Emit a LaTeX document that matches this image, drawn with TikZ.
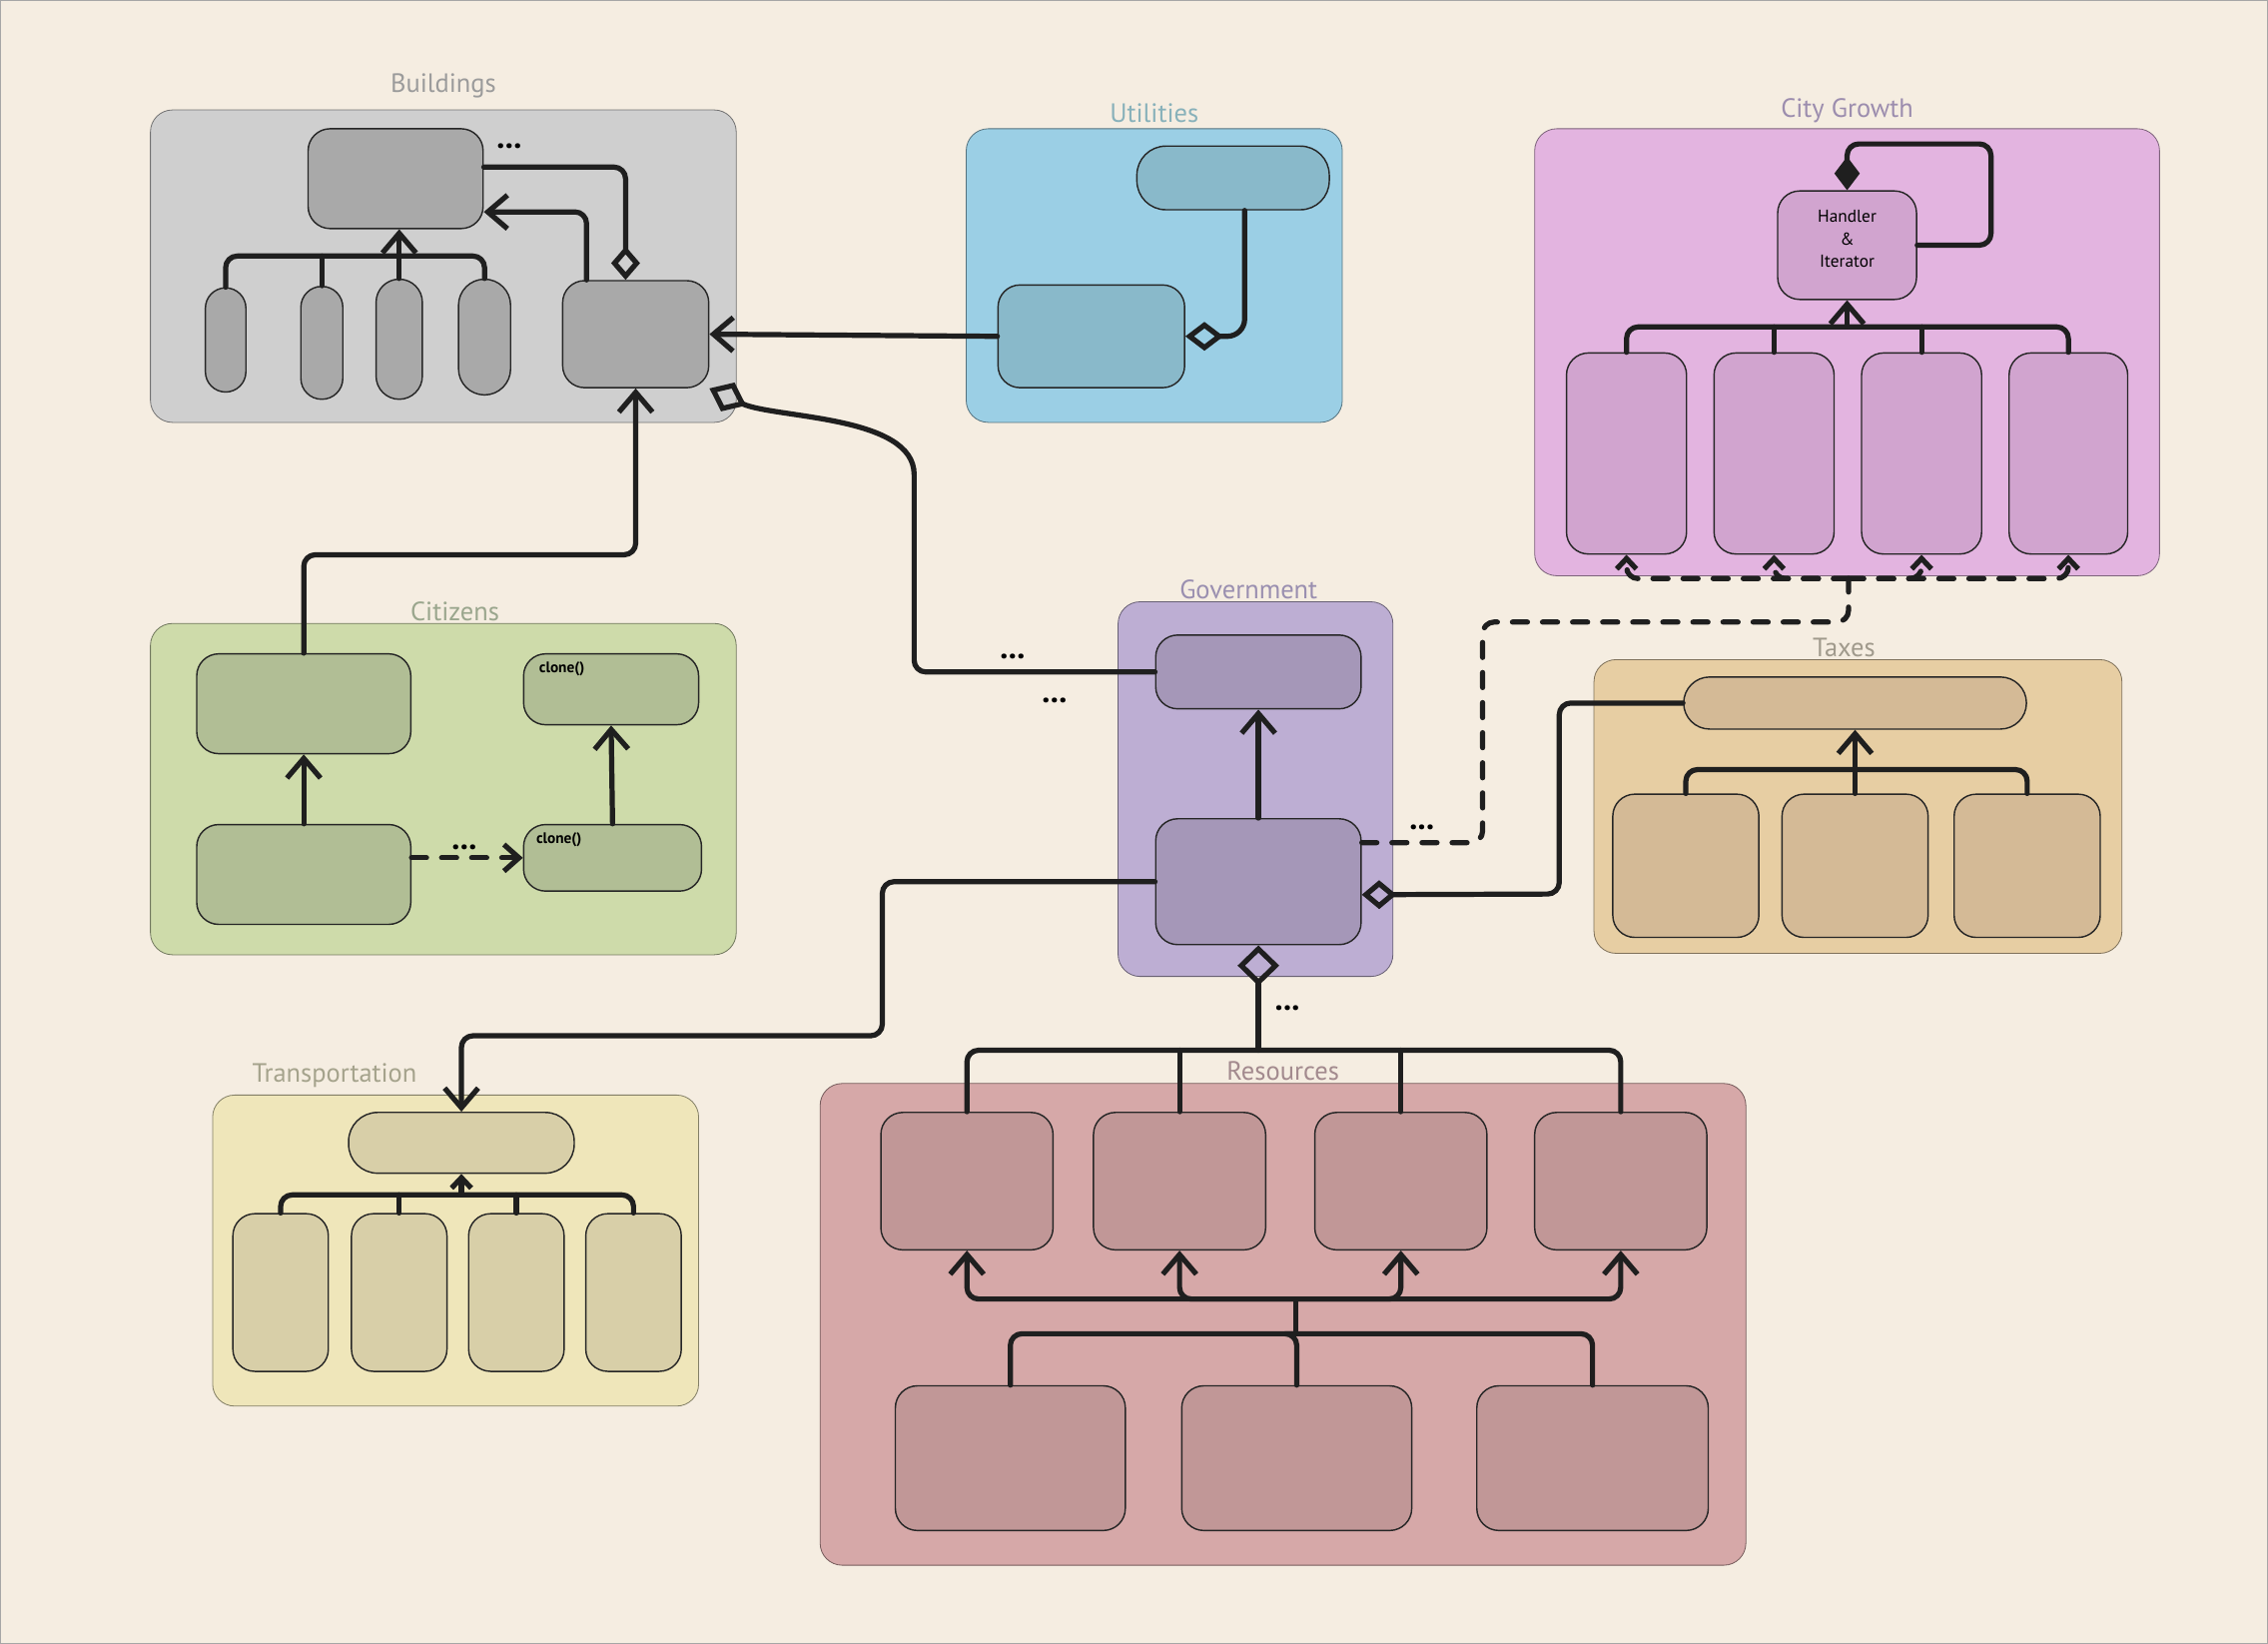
\documentclass[tikz,border=0pt]{standalone}
\usepackage{fontspec}
\setmainfont{PT Sans}
\usepackage{tikz}
\usetikzlibrary{calc}
\usetikzlibrary{fit}
\usetikzlibrary{positioning}
\usetikzlibrary{arrows.meta}

\definecolor{paper}{HTML}{F5EDE1}
\definecolor{bldA}{HTML}{CFCFCF}\definecolor{bldB}{HTML}{A9A9A9}\definecolor{bldT}{HTML}{9B9B9B}
\definecolor{utlA}{HTML}{9BCFE5}\definecolor{utlB}{HTML}{89B9CA}\definecolor{utlT}{HTML}{88B1BA}
\definecolor{grwA}{HTML}{E3B4E0}\definecolor{grwB}{HTML}{D1A4CF}\definecolor{grwT}{HTML}{9C8DAE}
\definecolor{citA}{HTML}{CEDBAA}\definecolor{citB}{HTML}{B1BE95}\definecolor{citT}{HTML}{9AA68D}
\definecolor{govA}{HTML}{BDAED3}\definecolor{govB}{HTML}{A597B8}\definecolor{govT}{HTML}{9A8FB0}
\definecolor{taxA}{HTML}{E7CEA3}\definecolor{taxB}{HTML}{D4BA96}\definecolor{taxT}{HTML}{A09A8C}
\definecolor{trpA}{HTML}{EFE6BA}\definecolor{trpB}{HTML}{D8CFA8}\definecolor{trpT}{HTML}{A5A38C}
\definecolor{resA}{HTML}{D6A8A8}\definecolor{resB}{HTML}{C19797}\definecolor{resT}{HTML}{A38A8E}

\begin{document}
\begin{tikzpicture}[x=0.25mm, y=-0.25mm,
    grp/.style={fill=#1, draw=#1!55!black, rounded corners=3.8mm, line width=0.4pt, inner sep=0pt},
    box/.style={fill=#1, draw=black!85, rounded corners=3.8mm, line width=0.7pt, inner sep=0pt},
    ttl/.style={text=#1, font=\fontsize{13}{15}\selectfont, inner sep=1pt},
    dots/.style={font=\fontsize{16}{16}\selectfont\bfseries, inner sep=0pt},
    note/.style={font=\fontsize{7.5}{8}\selectfont\bfseries, inner sep=0pt, anchor=north west},
    ln/.style={line width=0.9mm, draw=black!88, rounded corners=2mm, line cap=round, line join=round},
    arr/.style={ln, -{Straight Barb[length=3.4mm, width=5.8mm]}},
    sarr/.style={ln, -{Straight Barb[length=1.8mm, width=3.4mm]}},
    dia/.style={ln, -{Diamond[open, length=#1]}},
    dia/.default={5.8mm, width=5mm},
    sdia/.style={ln, {Diamond[open, length=7mm, width=7.2mm]}-},
    fdia/.style={ln, -{Diamond[length=5.8mm, width=4.4mm]}},
    dsh/.style={ln, dash pattern=on 2.6mm off 2.6mm},
  ]
\useasboundingbox (0,0) rectangle (1568,1136);
\fill[paper] (0,0) rectangle (1568,1136);
\draw[black!35, line width=0.8pt] (0,0) rectangle (1568,1136);

% groups
\node[grp=bldA, fit={(104,76) (509,292)}] (bld) {};
\node[grp=utlA, fit={(668,89) (928,292)}] (utl) {};
\node[grp=grwA, fit={(1061,89) (1493,398)}] (grw) {};
\node[grp=citA, fit={(104,431) (509,660)}] (cit) {};
\node[grp=govA, fit={(773,416) (963,675)}] (gov) {};
\node[grp=taxA, fit={(1102,456) (1467,659)}] (tax) {};
\node[grp=trpA, fit={(147,757) (483,972)}] (trp) {};
\node[grp=resA, fit={(567,749) (1207,1082)}] (res) {};

\node[ttl=bldT, above=1.5mm of bld] (bldt) {Buildings};
\node[ttl=utlT, above=0.5mm of utl] (utlt) {Utilities};
\node[ttl=grwT, above=0.5mm of grw] (grwt) {City Growth};
\node[ttl=citT, above=0mm of cit, xshift=2mm] (citt) {Citizens};
\node[ttl=govT, above=0mm of gov, xshift=-1.2mm] (govt) {Government};
\node[ttl=taxT, above=0mm of tax, xshift=-2.4mm] (taxt) {Taxes};
\node[ttl=trpT, above right=0.8mm and 6.5mm of trp.north west] (trpt) {Transportation};
\node[ttl=resT, above=0mm of res] (rest) {Resources};

% Buildings
\node[box=bldB, fit={(213,89) (334,158)}] (bd1) {};
\node[box=bldB, fit={(389,194) (490,268)}] (bd2) {};
\node[box=bldB, rounded corners=3.5mm, fit={(142,199) (170,271)}] (p1) {};
\node[box=bldB, rounded corners=3.6mm, fit={(208,198) (237,276)}] (p2) {};
\node[box=bldB, rounded corners=4mm, fit={(260,193) (292,276)}] (p3) {};
\node[box=bldB, rounded corners=4.5mm, fit={(317,193) (353,273)}] (p4) {};

% Utilities
\node[box=utlB, rounded corners=5mm, fit={(786,101) (919,145)}] (ut1) {};
\node[box=utlB, fit={(690,197) (819,268)}] (ut2) {};

% City Growth
\node[box=grwB, fit={(1229,132) (1325,207)}, align=center,
      font=\fontsize{8.5}{11}\selectfont] (h) {Handler\\\&\\Iterator};
\node[box=grwB, fit={(1083,244) (1166,383)}] (gc1) {};
\node[box=grwB, fit={(1185,244) (1268,383)}] (gc2) {};
\node[box=grwB, fit={(1287,244) (1370,383)}] (gc3) {};
\node[box=grwB, fit={(1389,244) (1471,383)}] (gc4) {};

% Citizens
\node[box=citB, fit={(136,452) (284,521)}] (ci1) {};
\node[box=citB, fit={(136,570) (284,639)}] (ci2) {};
\node[box=citB, fit={(362,452) (483,501)}] (ci3) {};
\node[box=citB, fit={(362,570) (485,616)}] (ci4) {};
\node[note] (cl1) at ($(ci3.north west)+(11,6)$) {clone()};
\node[note] (cl2) at ($(ci4.north west)+(9,6)$) {clone()};

% Government
\node[box=govB, fit={(799,439) (941,490)}] (gv1) {};
\node[box=govB, fit={(799,566) (941,653)}] (gv2) {};

% Taxes
\node[box=taxB, rounded corners=4.5mm, fit={(1164,468) (1401,504)}] (tx0) {};
\node[box=taxB, fit={(1115,549) (1216,648)}] (tx1) {};
\node[box=taxB, fit={(1232,549) (1333,648)}] (tx2) {};
\node[box=taxB, fit={(1351,549) (1452,648)}] (tx3) {};

% Transportation
\node[box=trpB, rounded corners=5mm, fit={(241,769) (397,811)}] (tr0) {};
\node[box=trpB, fit={(161,839) (227,948)}] (tr1) {};
\node[box=trpB, fit={(243,839) (309,948)}] (tr2) {};
\node[box=trpB, fit={(324,839) (390,948)}] (tr3) {};
\node[box=trpB, fit={(405,839) (471,948)}] (tr4) {};

% Resources
\node[box=resB, fit={(609,769) (728,864)}] (ra1) {};
\node[box=resB, fit={(756,769) (875,864)}] (ra2) {};
\node[box=resB, fit={(909,769) (1028,864)}] (ra3) {};
\node[box=resB, fit={(1061,769) (1180,864)}] (ra4) {};
\node[box=resB, fit={(619,958) (778,1058)}] (rb1) {};
\node[box=resB, fit={(817,958) (976,1058)}] (rb2) {};
\node[box=resB, fit={(1021,958) (1181,1058)}] (rb3) {};

% connectors: Buildings
\coordinate (bj) at (273,177);
\draw[ln] (p1.north) |- (bj) -| (p4.north);
\draw[ln] (p2.north) -- (p2.north |- bj);
\draw[arr] (p3.north) -- (p3.north |- bd1.south);
\draw[arr] ($(bd2.north west)+(17,0)$) |- ($(bd1.east)+(0,23)$);
\draw[dia] ($(bd1.east)+(0,-8)$) -| ($(bd2.north)+(-7,0)$);
\node[dots] (d1) at (352,101) {...};

% Utilities
\draw[dia={6.6mm, width=5mm}, rounded corners=3mm] ($(ut1.south)+(8,0)$) |- (ut2.east);
\draw[arr] (ut2.west) -- (bd2.east);

% Citizens
\draw[arr] (ci1.north) -- ++(0,-68) -| (bd2.south);
\draw[arr] (ci2.north) -- (ci1.south);
\draw[arr] (ci4.north) -- (ci3.south);
\draw[dsh, -{Straight Barb[length=2.6mm, width=4.6mm]}] (ci2.east |- ci4.west) -- (ci4.west);
\node[dots] (d4) at (321,586) {...};

% Government
\draw[arr] (gv2.north) -- (gv1.south);
\draw[dia={7mm, width=5.5mm}] (gv1.west) -| (632,336) to[out=90, in=-25, looseness=0.8] (bd2.south east);
\node[dots] (d2) at (700,454) {...};
\node[dots] (d3) at (729,484) {...};
\draw[arr] (gv2.west) -| (610,716) -| (tr0.north);
\draw[dia={6mm, width=5mm}] (tx0.west) -| (1078,618) -- ($(gv2.east)+(0,9)$);
\coordinate (dj) at (1278,400);
\draw[dsh] ($(gv2.east)+(0,-27)$) -| (1025,430) -| (dj);
\foreach \c in {gc1,gc2,gc3,gc4}
  \draw[dsh, -{Straight Barb[length=1.8mm, width=3.4mm]}] (dj) -| (\c.south);
\node[dots] (d5) at (983,572) {...};

% City Growth
\coordinate (gj) at (1277,226);
\draw[ln] (gc1.north) |- (gj) -| (gc4.north);
\draw[ln] (gc2.north) -- (gc2.north |- gj);
\draw[ln] (gc3.north) -- (gc3.north |- gj);
\draw[arr] (gj) -- (h.south);
\draw[fdia] (h.east) -| ++(51,-70) -| (h.north);

% Taxes
\coordinate (tj) at (1282,532);
\draw[ln] (tx1.north) |- (tj) -| (tx3.north);
\draw[arr] (tx2.north) -- (tx0.south);

% Transportation
\coordinate (trj) at (319,826);
\draw[ln] (tr1.north) |- (trj) -| (tr4.north);
\draw[ln] (tr2.north) -- (tr2.north |- trj);
\draw[ln] (tr3.north) -- (tr3.north |- trj);
\draw[sarr] (trj) -- (tr0.south);

% Resources
\coordinate (rj) at (875,726);
\draw[sdia] (gv2.south) -- (gv2.south |- rj);
\draw[ln] (ra1.north) |- (rj) -| (ra4.north);
\draw[ln] (ra2.north) -- (ra2.north |- rj);
\draw[ln] (ra3.north) -- (ra3.north |- rj);
\node[dots] (d6) at (890,697) {...};
\coordinate (mj) at (896,898);
\foreach \a in {ra1,ra2,ra3,ra4}
  \draw[arr] (mj) -| (\a.south);
\coordinate (lj) at (896,922);
\draw[ln] (mj) -- (lj);
\foreach \b in {rb1,rb2,rb3}
  \draw[ln] (lj) -| (\b.north);
\end{tikzpicture}
\end{document}
